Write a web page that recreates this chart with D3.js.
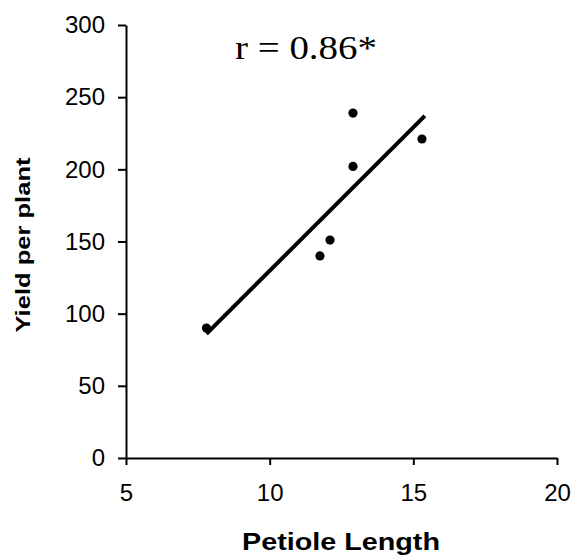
<!DOCTYPE html>
<html>
<head>
<meta charset="utf-8">
<script src="https://cdn.jsdelivr.net/npm/d3@7"></script>
<style>
  body { margin: 0; background: #fff; }
  svg { display: block; }
  .axis path, .axis line { stroke: #000; stroke-width: 2; }
  .axis text { font-family: "Liberation Sans", Arial, sans-serif; font-size: 24px; fill: #000; }
</style>
</head>
<body>
<svg width="574" height="555"></svg>
<script>
// values
var petioleLength = [7.8, 11.75, 12.1, 12.9, 12.9, 15.3];
var yieldPerPlant = [90, 140, 151, 202, 239, 221];
var trendX = [7.8, 15.4];
var trendY = [86, 237];
var xTicks = [5, 10, 15, 20];
var yTicks = [0, 50, 100, 150, 200, 250, 300];
var label = "r = 0.86*";

var svg = d3.select("svg");

var x = d3.scaleLinear().domain([5, 20]).range([126, 557]);
var y = d3.scaleLinear().domain([0, 300]).range([458, 25]);

svg.append("g")
	.attr("class", "axis")
	.attr("transform", "translate(0,458)")
	.call(d3.axisBottom(x).tickValues(xTicks).tickSize(7).tickSizeOuter(0).tickPadding(19));

svg.append("g")
	.attr("class", "axis")
	.attr("transform", "translate(126,0)")
	.call(d3.axisLeft(y).tickValues(yTicks).tickSize(8).tickSizeOuter(0).tickPadding(13));

// regression line
svg.append("line")
	.attr("x1", x(trendX[0]))
	.attr("y1", y(trendY[0]))
	.attr("x2", x(trendX[1]))
	.attr("y2", y(trendY[1]))
	.style("stroke", "#000")
	.style("stroke-width", 4);

var pts = petioleLength.map(function(d, i) { return {x: d, y: yieldPerPlant[i]}; });

svg.selectAll("circle.pt")
	.data(pts)
	.enter().append("circle")
	.attr("class", "pt")
	.attr("cx", function(d) { return x(d.x); })
	.attr("cy", function(d) { return y(d.y); })
	.attr("r", 4.6)
	.style("fill", "#000");

svg.append("text")
	.attr("x", 235)
	.attr("y", 59)
	.attr("textLength", 142)
	.attr("lengthAdjust", "spacingAndGlyphs")
	.style("font-family", "'Liberation Serif', 'Times New Roman', serif")
	.style("font-size", "33px")
	.text(label);

svg.append("text")
	.attr("x", 341)
	.attr("y", 550)
	.attr("text-anchor", "middle")
	.attr("textLength", 198)
	.attr("lengthAdjust", "spacingAndGlyphs")
	.style("font-family", "'Liberation Sans', Arial, sans-serif")
	.style("font-weight", "bold")
	.style("font-size", "23px")
	.text("Petiole Length");

svg.append("text")
	.attr("transform", "translate(30,245) rotate(-90)")
	.attr("text-anchor", "middle")
	.attr("textLength", 175)
	.attr("lengthAdjust", "spacingAndGlyphs")
	.style("font-family", "'Liberation Sans', Arial, sans-serif")
	.style("font-weight", "bold")
	.style("font-size", "21px")
	.text("Yield per plant");
</script>
</body>
</html>
